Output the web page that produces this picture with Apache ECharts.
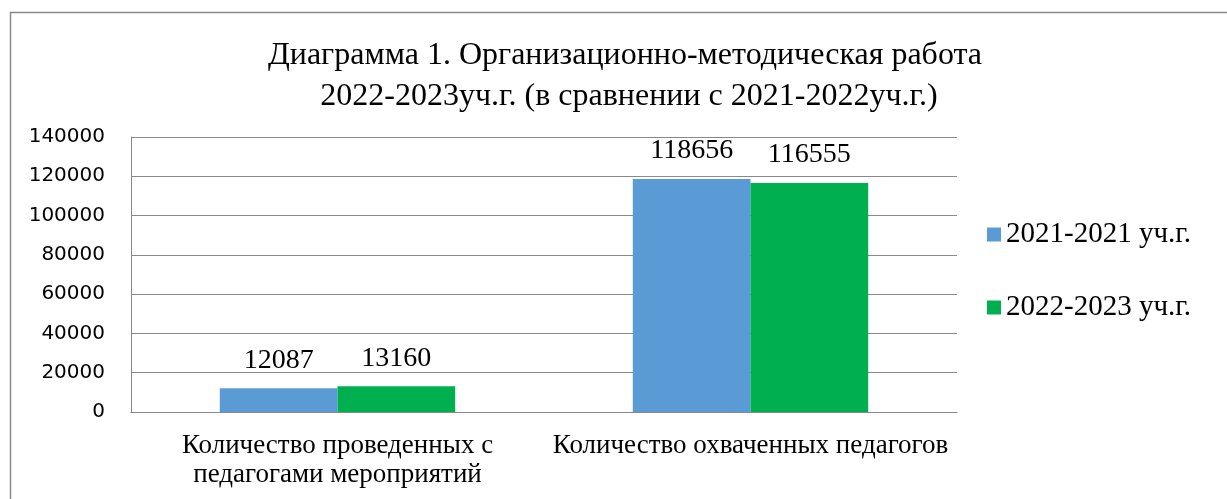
<!DOCTYPE html>
<html lang="ru">
<head>
<meta charset="utf-8">
<title>Диаграмма 1</title>
<script src="https://cdn.jsdelivr.net/npm/echarts@6/dist/echarts.min.js"></script>
<style>
  html, body { margin: 0; padding: 0; background: #fff; }
  #chart { width: 1227px; height: 499px; }
</style>
</head>
<body>
<div id="chart"></div>
<script>
// данные диаграммы
var categories = ['Количество проведенных с\nпедагогами мероприятий', 'Количество охваченных педагогов'];
var seriesNames = ['2021-2021 уч.г.', '2022-2023 уч.г.'];
var values2021 = [12087, 118656];
var values2022 = [13160, 116555];
var yTicks = [0, 20000, 40000, 60000, 80000, 100000, 120000, 140000];

var serif = '"Liberation Serif", "Times New Roman", serif';
var sans = '"DejaVu Sans", sans-serif';

var chart = echarts.init(document.getElementById('chart'));

chart.setOption({
    animation: false,
    title: {
        text: 'Диаграмма 1. Организационно-методическая работа\n 2022-2023уч.г. (в сравнении с 2021-2022уч.г.)',
        left: 620,
        textAlign: 'center',
        top: 30,
        textStyle: {
            fontFamily: serif,
            fontSize: 32,
            fontWeight: 'normal',
            color: '#000',
            lineHeight: 41
        }
    },
    legend: {
        orient: 'vertical',
        left: 982,
        top: 215,
        itemWidth: 14,
        itemHeight: 14,
        itemGap: 44,
        icon: 'rect',
        textStyle: { fontFamily: serif, fontSize: 29, color: '#000' },
        data: seriesNames
    },
    grid: { left: 131, right: 270, top: 137, bottom: 87 },
    xAxis: {
        type: 'category',
        data: categories,
        axisLine: { lineStyle: { color: '#898989' } },
        axisTick: { show: false },
        axisLabel: {
            interval: 0,
            fontFamily: serif,
            fontSize: 27,
            color: '#000',
            lineHeight: 29,
            margin: 19
        }
    },
    yAxis: {
        type: 'value',
        min: yTicks[0],
        max: yTicks[yTicks.length - 1],
        interval: yTicks[1] - yTicks[0],
        axisLine: { show: true, lineStyle: { color: '#898989' } },
        axisTick: { show: false },
        splitLine: { lineStyle: { color: '#898989' } },
        axisLabel: {
            fontFamily: sans, fontSize: 20, color: '#000', margin: 26,
            formatter: function (v) { return String(v); }
        }
    },
    series: [
        {
            name: seriesNames[0],
            type: 'bar',
            data: values2021,
            barGap: '0%',
            barCategoryGap: '43%',
            itemStyle: { color: '#5B9BD5' },
            label: { show: true, position: 'top', distance: 14, fontFamily: serif, fontSize: 28, color: '#000' }
        },
        {
            name: seriesNames[1],
            type: 'bar',
            data: values2022,
            barGap: '0%',
            barCategoryGap: '43%',
            itemStyle: { color: '#00B050' },
            label: { show: true, position: 'top', distance: 14, fontFamily: serif, fontSize: 28, color: '#000' }
        }
    ],
    graphic: [{
        type: 'rect',
        left: 8,
        top: 10,
        shape: { width: 1240, height: 520 },
        style: { fill: 'none', stroke: '#898989', lineWidth: 1.5 },
        silent: true
    }]
});
</script>
</body>
</html>
